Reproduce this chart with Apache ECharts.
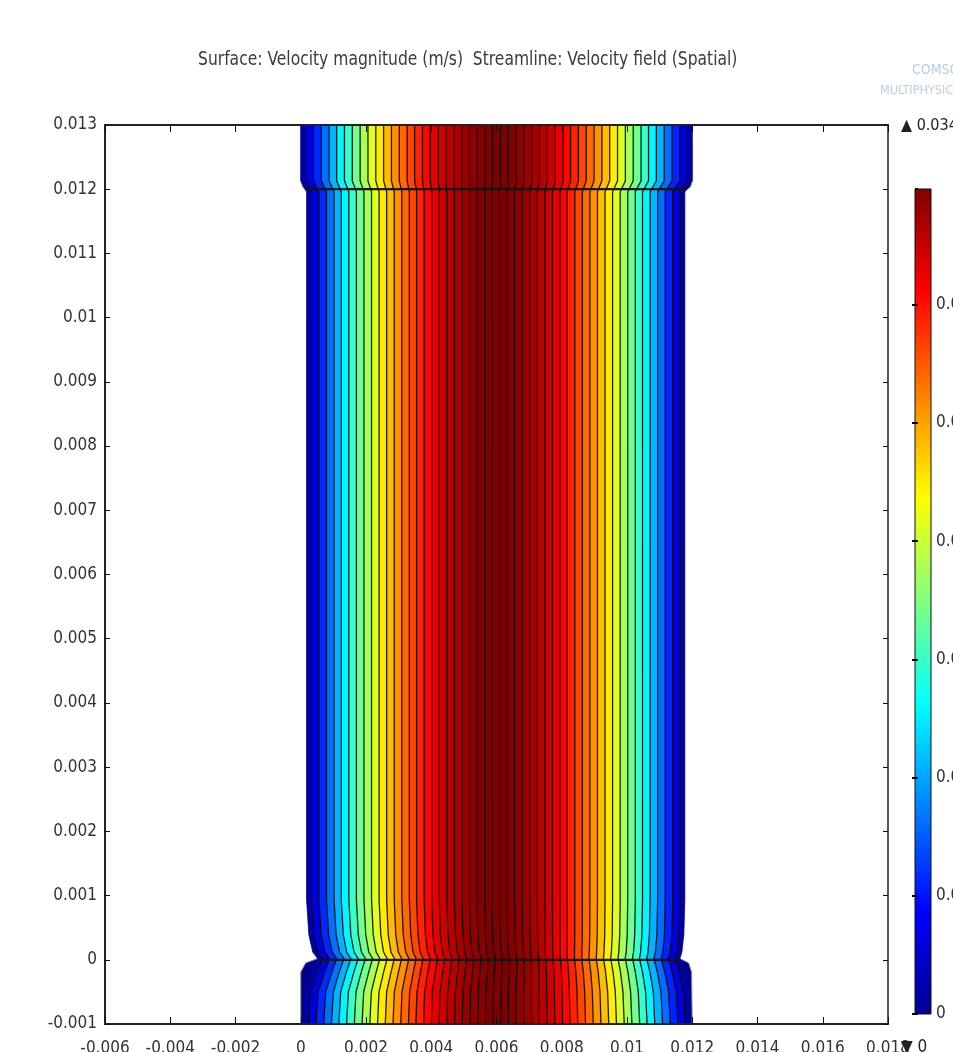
<!DOCTYPE html>
<html>
<head>
<meta charset="utf-8">
<script src="https://cdn.jsdelivr.net/npm/echarts@6/dist/echarts.min.js"></script>
<style>
  html, body { margin: 0; padding: 0; background: #ffffff; }
  #chart { width: 953px; height: 1052px; }
</style>
</head>
<body>
<div id="chart"></div>
<script>
// ---- plot text and axis ranges ----
const titleText = 'Surface: Velocity magnitude (m/s)  Streamline: Velocity field (Spatial)';
const xRange = [-0.006, 0.018];
const xStep = 0.002;
const yRange = [-0.001, 0.013];
const yStep = 0.001;

// colour bar range and tick step (m/s)
const speedMin = 0;
const speedMax = 0.0349;
const speedStep = 0.005;

// streamline x-positions at the inlet, y = 0.013 (m)
const streamX = [
  0.00015, 0.00039, 0.00063, 0.00087, 0.00110, 0.00134, 0.00158, 0.00182, 0.00206, 0.00230,
  0.00254, 0.00278, 0.00302, 0.00326, 0.00349, 0.00373, 0.00397, 0.00421, 0.00445, 0.00469,
  0.00493, 0.00517, 0.00541, 0.00565, 0.00588, 0.00612, 0.00636, 0.00660, 0.00684, 0.00708,
  0.00732, 0.00756, 0.00780, 0.00804, 0.00827, 0.00851, 0.00875, 0.00899, 0.00923, 0.00947,
  0.00971, 0.00995, 0.01019, 0.01043, 0.01066, 0.01090, 0.01114, 0.01138, 0.01162, 0.01185
];

// velocity magnitude in each strip between neighbouring streamlines (m/s)
const bandSpeed = [
  0.0009, 0.0031, 0.0057, 0.0082, 0.0105, 0.0128, 0.0149, 0.0170, 0.0189, 0.0208,
  0.0225, 0.0241, 0.0256, 0.0270, 0.0282, 0.0294, 0.0304, 0.0314, 0.0322, 0.0329,
  0.0335, 0.0340, 0.0344, 0.0347, 0.0349, 0.0349, 0.0349, 0.0347, 0.0344, 0.0340,
  0.0335, 0.0329, 0.0322, 0.0313, 0.0304, 0.0294, 0.0282, 0.0269, 0.0255, 0.0240,
  0.0224, 0.0207, 0.0188, 0.0169, 0.0149, 0.0128, 0.0105, 0.0081, 0.0056, 0.0030,
  0.0009
];

// fluid domain outline: wall x at several heights (m)
const wallY     = [0.013, 0.01213, 0.01204, 0.01196, 0.00094, 0.00039, 0.00012, 0.00002, -0.00005, -0.00019, -0.001];
const wallLeft  = [0.0, 0.0, 0.00006, 0.00018, 0.00018, 0.00025, 0.00037, 0.00052, 0.00015, 0.0, 0.0];
const wallRight = [0.012, 0.012, 0.01195, 0.01177, 0.01177, 0.01174, 0.01168, 0.01162, 0.01189, 0.01198, 0.012];

// envelope enclosing the streamlines at several heights (m)
const lineY     = [0.013, 0.01213, 0.01196, 0.00094, 0.00039, 0.00012, 0.00002, -0.0002, -0.0005, -0.001];
const lineLeft  = [0.0, 0.0, 0.00018, 0.00018, 0.00025, 0.00037, 0.00052, 0.00035, 0.00015, 0.00008];
const lineRight = [0.012, 0.012, 0.01177, 0.01177, 0.01174, 0.01168, 0.01162, 0.01175, 0.01188, 0.01194];

// internal boundaries drawn across the channel (m)
const interfaceY     = [0.012, 0.0];
const interfaceLeft  = [0.00018, 0.00052];
const interfaceRight = [0.01177, 0.01162];

// rainbow colour table, low to high
const jetColors = ['#00008f', '#0000ff', '#0080ff', '#00ffff', '#80ff80', '#ffff00', '#ff8000', '#ff0000', '#800000'];

const FONT = "'DejaVu Sans Condensed', 'DejaVu Sans', sans-serif";
const fmt = v => String(parseFloat(Number(v).toFixed(4)));

// relative position of an inlet x across the streamline envelope
const rel = x => (x - lineLeft[0]) / (lineRight[0] - lineLeft[0]);
const along = (s, j) => lineLeft[j] + s * (lineRight[j] - lineLeft[j]);

const chart = echarts.init(document.getElementById('chart'), null, { renderer: 'canvas' });

const axisLineStyle = { color: '#222', width: 2 };
const tickStyle = { color: '#111', width: 1 };

const option = {
  animation: false,
  backgroundColor: '#ffffff',
  grid: [
    { left: 105, right: 65, top: 125, bottom: 28, outerBoundsMode: 'none', containLabel: false },
    { left: 915, width: 16, top: 189, height: 825, outerBoundsMode: 'none', containLabel: false }
  ],
  xAxis: [
    {
      type: 'value', gridIndex: 0, position: 'bottom', min: xRange[0], max: xRange[1], interval: xStep, z: 10,
      axisLine: { show: true, onZero: false, lineStyle: axisLineStyle },
      axisTick: { show: true, inside: true, length: 7, lineStyle: tickStyle },
      axisLabel: { show: true, margin: 16, fontSize: 17, color: '#333', fontFamily: FONT, formatter: fmt,
                   showMinLabel: true, showMaxLabel: true, hideOverlap: false },
      splitLine: { show: false }
    },
    {
      type: 'value', gridIndex: 0, position: 'top', min: xRange[0], max: xRange[1], interval: xStep, z: 10,
      axisLine: { show: true, onZero: false, lineStyle: axisLineStyle },
      axisTick: { show: true, inside: true, length: 7, lineStyle: tickStyle },
      axisLabel: { show: false },
      splitLine: { show: false }
    },
    {
      type: 'value', gridIndex: 1, min: 0, max: 1, show: false
    }
  ],
  yAxis: [
    {
      type: 'value', gridIndex: 0, position: 'left', min: yRange[0], max: yRange[1], interval: yStep, z: 10,
      axisLine: { show: true, onZero: false, lineStyle: axisLineStyle },
      axisTick: { show: true, inside: true, length: 5, lineStyle: tickStyle },
      axisLabel: { show: true, margin: 8, fontSize: 17, color: '#333', fontFamily: FONT, formatter: fmt,
                   showMinLabel: true, showMaxLabel: true },
      splitLine: { show: false }
    },
    {
      type: 'value', gridIndex: 0, position: 'right', min: yRange[0], max: yRange[1], interval: yStep, z: 10,
      axisLine: { show: true, onZero: false, lineStyle: { color: '#555', width: 2 } },
      axisTick: { show: true, inside: true, length: 5, lineStyle: tickStyle },
      axisLabel: { show: false },
      splitLine: { show: false }
    },
    {
      type: 'value', gridIndex: 1, position: 'right', min: speedMin, max: speedMax, interval: speedStep, z: 10,
      axisLine: { show: false },
      axisTick: { show: true, inside: true, length: 3, lineStyle: { color: '#000', width: 2 } },
      axisLabel: { show: true, margin: 5, fontSize: 17, color: '#333', fontFamily: FONT, formatter: fmt,
                   showMaxLabel: false },
      splitLine: { show: false }
    },
    {
      type: 'value', gridIndex: 1, position: 'left', min: speedMin, max: speedMax, interval: speedStep, z: 10,
      axisLine: { show: false },
      axisTick: { show: true, inside: true, length: 3, lineStyle: { color: '#000', width: 2 } },
      axisLabel: { show: false },
      splitLine: { show: false }
    }
  ],
  visualMap: [{
    type: 'continuous', show: false, seriesIndex: 1, dimension: 1,
    min: speedMin, max: speedMax, inRange: { color: jetColors }
  }],
  series: [
    // fluid domain (slowest fluid along the walls)
    {
      type: 'custom', xAxisIndex: 0, yAxisIndex: 0, z: 1, silent: true,
      data: [[0, 0]],
      renderItem: (params, api) => {
        const pts = [];
        for (let j = 0; j < wallY.length; j++) pts.push(api.coord([wallLeft[j], wallY[j]]));
        for (let j = wallY.length - 1; j >= 0; j--) pts.push(api.coord([wallRight[j], wallY[j]]));
        return { type: 'polygon', shape: { points: pts },
                 style: { fill: jetColors[0], stroke: '#8e8e8e', lineWidth: 1 } };
      }
    },
    // velocity magnitude strips between streamlines
    {
      type: 'custom', xAxisIndex: 0, yAxisIndex: 0, z: 2, silent: true,
      data: bandSpeed.map((v, k) => [k, v]),
      renderItem: (params, api) => {
        const k = api.value(0);
        const s0 = rel(k === 0 ? lineLeft[0] : streamX[k - 1]);
        const s1 = rel(k === streamX.length ? lineRight[0] : streamX[k]);
        const pts = [];
        for (let j = 0; j < lineY.length; j++) pts.push(api.coord([along(s0, j), lineY[j]]));
        for (let j = lineY.length - 1; j >= 0; j--) pts.push(api.coord([along(s1, j), lineY[j]]));
        const c = api.visual('color');
        return { type: 'polygon', shape: { points: pts }, style: { fill: c, stroke: c, lineWidth: 0.6 } };
      }
    },
    // streamlines
    {
      type: 'custom', xAxisIndex: 0, yAxisIndex: 0, z: 3, silent: true,
      data: streamX.map((x, i) => [i, x]),
      renderItem: (params, api) => {
        const s = rel(streamX[api.value(0)]);
        const pts = [];
        for (let j = 0; j < lineY.length; j++) pts.push(api.coord([along(s, j), lineY[j]]));
        return { type: 'polyline', shape: { points: pts },
                 style: { stroke: '#0a0a0a', lineWidth: 1.3, fill: null, opacity: 0.9 } };
      }
    },
    // internal boundaries across the channel
    {
      type: 'custom', xAxisIndex: 0, yAxisIndex: 0, z: 4, silent: true,
      data: interfaceY.map((y, i) => [i, y]),
      renderItem: (params, api) => {
        const i = api.value(0);
        const a = api.coord([interfaceLeft[i], interfaceY[i]]);
        const b = api.coord([interfaceRight[i], interfaceY[i]]);
        return { type: 'line', shape: { x1: a[0], y1: a[1], x2: b[0], y2: b[1] },
                 style: { stroke: '#151515', lineWidth: 2.2 } };
      }
    },
    // colour bar
    {
      type: 'custom', xAxisIndex: 2, yAxisIndex: 2, z: 2, silent: true,
      data: [[0, speedMin]],
      renderItem: (params, api) => {
        const p0 = api.coord([0, speedMax]);
        const p1 = api.coord([1, speedMin]);
        const stops = jetColors.map((c, i) => ({ offset: i / (jetColors.length - 1), color: c }));
        return { type: 'rect',
                 shape: { x: p0[0], y: p0[1], width: p1[0] - p0[0], height: p1[1] - p0[1] },
                 style: { fill: new echarts.graphic.LinearGradient(0, 1, 0, 0, stops), stroke: '#111', lineWidth: 1 } };
      }
    }
  ],
  graphic: [
    { type: 'text', x: 198, y: 51, scaleX: 0.91, z: 20,
      style: { text: titleText, font: '19px ' + FONT, fill: '#3a3a3a' } },
    { type: 'text', x: 912, y: 63, z: 20,
      style: { text: 'COMSOL', font: '14px ' + FONT, fill: '#b5cfe8' } },
    { type: 'text', x: 880, y: 84, z: 20,
      style: { text: 'MULTIPHYSICS', font: '12.5px ' + FONT, fill: '#b5cfe8' } },
    { type: 'text', x: 901, y: 118, z: 20,
      style: { text: '\u25B2 ' + fmt(speedMax), font: '16px ' + FONT, fill: '#222' } },
    { type: 'text', x: 901, y: 1039, z: 20,
      style: { text: '\u25BC ' + fmt(speedMin), font: '17px ' + FONT, fill: '#222' } }
  ]
};

chart.setOption(option);
</script>
</body>
</html>
